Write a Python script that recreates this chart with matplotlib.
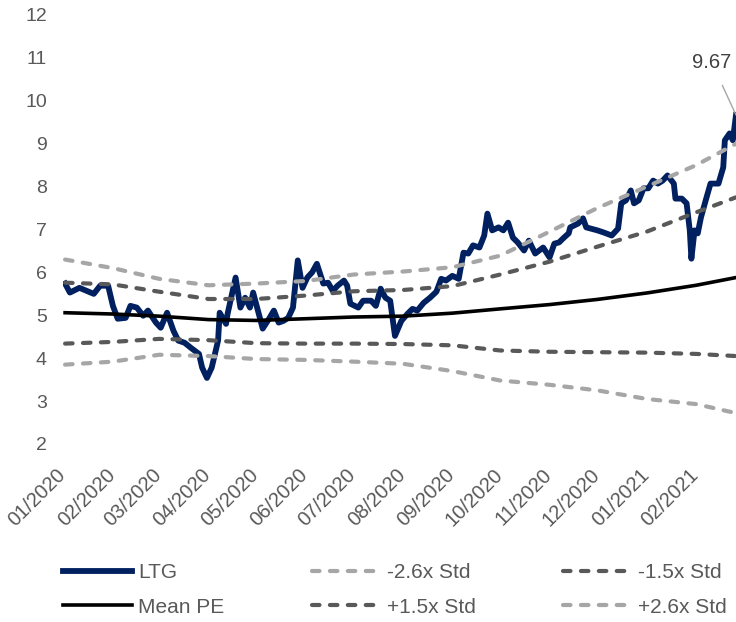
import matplotlib
matplotlib.use("Agg")
import matplotlib.pyplot as plt
import matplotlib.dates as mdates
import matplotlib.transforms as mtransforms
import pandas as pd

plt.rcParams["font.family"] = ["Liberation Sans", "DejaVu Sans"]

NAVY = "#002060"
DARK = "#595959"
LIGHT = "#A6A6A6"

# LTG daily P/E
ltg_dates = [
    "2020-01-02", "2020-01-05", "2020-01-11", "2020-01-20", "2020-01-24", "2020-01-29",
    "2020-02-01", "2020-02-04", "2020-02-09", "2020-02-12", "2020-02-16", "2020-02-20",
    "2020-02-23", "2020-02-28", "2020-03-02", "2020-03-06", "2020-03-10", "2020-03-13",
    "2020-03-17", "2020-03-21", "2020-03-26", "2020-03-28", "2020-03-31", "2020-04-03",
    "2020-04-07", "2020-04-08", "2020-04-12", "2020-04-13", "2020-04-18", "2020-04-21",
    "2020-04-24", "2020-04-27", "2020-04-29", "2020-05-02", "2020-05-05", "2020-05-09",
    "2020-05-12", "2020-05-15", "2020-05-18", "2020-05-21", "2020-05-24", "2020-05-27",
    "2020-05-30", "2020-06-02", "2020-06-05", "2020-06-08", "2020-06-12", "2020-06-15",
    "2020-06-18", "2020-06-21", "2020-06-25", "2020-06-27", "2020-06-29", "2020-07-04",
    "2020-07-07", "2020-07-12", "2020-07-15", "2020-07-18", "2020-07-21", "2020-07-24",
    "2020-07-27", "2020-07-31", "2020-08-04", "2020-08-07", "2020-08-10", "2020-08-14",
    "2020-08-18", "2020-08-22", "2020-08-25", "2020-08-28", "2020-09-01", "2020-09-05",
    "2020-09-08", "2020-09-11", "2020-09-14", "2020-09-18", "2020-09-21", "2020-09-23",
    "2020-09-26", "2020-09-30", "2020-10-03", "2020-10-06", "2020-10-09", "2020-10-12",
    "2020-10-16", "2020-10-19", "2020-10-23", "2020-10-28", "2020-11-01", "2020-11-04",
    "2020-11-07", "2020-11-10", "2020-11-13", "2020-11-14", "2020-11-19", "2020-11-22",
    "2020-11-24", "2020-11-27", "2020-12-01", "2020-12-05", "2020-12-10", "2020-12-14",
    "2020-12-16", "2020-12-19", "2020-12-22", "2020-12-24", "2020-12-27", "2020-12-30",
    "2021-01-02", "2021-01-05", "2021-01-08", "2021-01-11", "2021-01-14", "2021-01-18",
    "2021-01-19", "2021-01-23", "2021-01-26", "2021-01-28", "2021-01-29", "2021-01-31",
    "2021-02-02", "2021-02-04", "2021-02-07", "2021-02-10", "2021-02-15", "2021-02-18",
    "2021-02-19", "2021-02-22", "2021-02-24", "2021-02-26",
]
ltg_values = [
    5.74, 5.53, 5.64, 5.50, 5.69, 5.69,
    5.22, 4.92, 4.94, 5.22, 5.18, 4.99,
    5.11, 4.83, 4.71, 5.06, 4.64, 4.41,
    4.36, 4.24, 4.10, 3.78, 3.54, 3.78,
    4.41, 5.06, 4.80, 5.04, 5.88, 5.18,
    5.41, 5.18, 5.53, 5.11, 4.69, 4.92,
    5.11, 4.83, 4.87, 4.94, 5.18, 6.28,
    5.64, 5.88, 6.00, 6.20, 5.74, 5.76,
    5.57, 5.69, 5.81, 5.69, 5.27, 5.18,
    5.34, 5.34, 5.22, 5.62, 5.41, 5.34,
    4.52, 4.87, 5.04, 5.15, 5.11, 5.29,
    5.41, 5.55, 5.85, 5.81, 5.92, 5.85,
    6.46, 6.44, 6.63, 6.58, 6.86, 7.37,
    6.98, 7.05, 6.98, 7.16, 6.81, 6.70,
    6.51, 6.74, 6.44, 6.58, 6.35, 6.67,
    6.70, 6.81, 6.91, 7.05, 7.14, 7.26,
    7.05, 7.02, 6.98, 6.93, 6.86, 7.02,
    7.61, 7.68, 7.91, 7.61, 7.68, 7.96,
    7.96, 8.14, 8.07, 8.14, 8.26, 8.07,
    7.72, 7.72, 7.61, 6.98, 6.32, 6.98,
    6.91, 7.28, 7.68, 8.07, 8.07, 8.45,
    9.08, 9.24, 9.08, 9.67,
]

# mean PE and std bands, read at month starts
band_dates = [
    "2020-01-02", "2020-02-01", "2020-03-01", "2020-04-01", "2020-05-01",
    "2020-06-01", "2020-07-01", "2020-08-01", "2020-09-01", "2020-10-01",
    "2020-11-01", "2020-12-01", "2021-01-01", "2021-02-01", "2021-02-26",
]
mean_pe = [5.06, 5.03, 4.98, 4.90, 4.88, 4.92, 4.96, 4.98, 5.05, 5.15, 5.25, 5.37, 5.52, 5.70, 5.88]
plus_15 = [5.76, 5.72, 5.55, 5.38, 5.38, 5.46, 5.56, 5.59, 5.68, 5.95, 6.25, 6.60, 6.95, 7.40, 7.75]
minus_15 = [4.34, 4.38, 4.45, 4.42, 4.35, 4.34, 4.34, 4.33, 4.30, 4.18, 4.15, 4.14, 4.13, 4.10, 4.05]
plus_26 = [6.30, 6.10, 5.85, 5.70, 5.74, 5.80, 5.95, 6.02, 6.12, 6.39, 6.95, 7.50, 8.00, 8.50, 9.00]
minus_26 = [3.85, 3.92, 4.08, 4.05, 3.98, 3.96, 3.92, 3.87, 3.70, 3.48, 3.38, 3.25, 3.05, 2.93, 2.72]

ltg_x = pd.to_datetime(ltg_dates)
band_x = pd.to_datetime(band_dates)

fig = plt.figure(figsize=(7.36, 6.22), dpi=100)
ax = fig.add_axes([63.5 / 736, (622 - 444) / 622, (736 - 63.5) / 736, (444 - 15) / 622])

dash = dict(dashes=(1.8, 2.5), dash_capstyle="round", lw=3.0)

h_ltg, = ax.plot(ltg_x, ltg_values, color=NAVY, lw=4.2, solid_joinstyle="round", label="LTG")
h_m26, = ax.plot(band_x, minus_26, color=LIGHT, label="-2.6x Std", **dash)
h_m15, = ax.plot(band_x, minus_15, color=DARK, label="-1.5x Std", **dash)
h_mean, = ax.plot(band_x, mean_pe, color="black", lw=2.6, label="Mean PE")
h_p15, = ax.plot(band_x, plus_15, color=DARK, label="+1.5x Std", **dash)
h_p26, = ax.plot(band_x, plus_26, color=LIGHT, label="+2.6x Std", **dash)

ax.set_xlim(pd.Timestamp("2020-01-01"), ltg_x[-1])
ax.set_ylim(2, 12)
ax.set_yticks(range(2, 13))

ax.xaxis.set_major_locator(mdates.MonthLocator())
ax.xaxis.set_major_formatter(mdates.DateFormatter("%m/%Y"))
ax.tick_params(axis="both", length=0, labelsize=14, labelcolor=DARK)
ax.tick_params(axis="y", pad=12)
ax.tick_params(axis="x", pad=15, labelsize=14.5)
shift = mtransforms.ScaledTranslation(6 / 100, 0, fig.dpi_scale_trans)
for lab in ax.get_xticklabels():
    lab.set_rotation(45)
    lab.set_ha("right")
    lab.set_transform(lab.get_transform() + shift)
for s in ax.spines.values():
    s.set_visible(False)

# last value label
ax.annotate(
    f"{ltg_values[-1]:.2f}",
    xy=(ltg_x[-1], ltg_values[-1]),
    xytext=(-24, 52),
    textcoords="offset pixels",
    ha="center",
    va="center",
    fontsize=14.5,
    color="#404040",
    arrowprops=dict(arrowstyle="-", color=LIGHT, lw=1, shrinkA=8, shrinkB=0),
    annotation_clip=False,
)

fig.legend(
    [h_ltg, h_mean, h_m26, h_p15, h_m15, h_p26],
    ["LTG", "Mean PE", "-2.6x Std", "+1.5x Std", "-1.5x Std", "+2.6x Std"],
    ncol=3,
    loc="upper left",
    bbox_to_anchor=(63 / 736, 1 - 563 / 622),
    frameon=False,
    fontsize=15,
    handlelength=3.3,
    handletextpad=0.3,
    columnspacing=4.2,
    labelspacing=0.75,
    borderpad=0,
    borderaxespad=0,
    labelcolor=DARK,
)

fig.savefig("out.png", dpi=100, facecolor="white")
